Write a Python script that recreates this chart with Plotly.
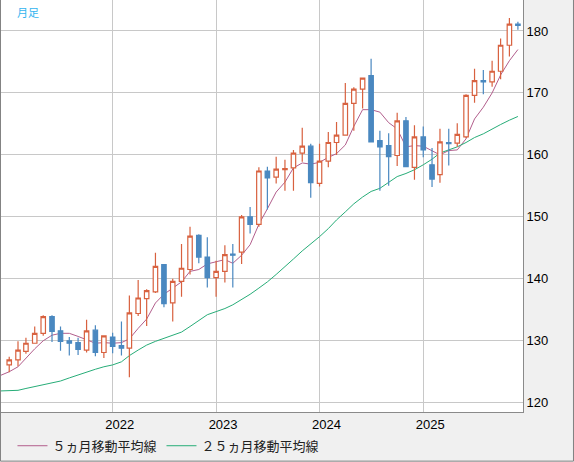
import pandas as pd
import plotly.graph_objects as go

# monthly candles, Jan 2021 .. Dec 2025
months = pd.date_range("2021-01-01", periods=60, freq="MS")
# moving averages start one month earlier so the lines reach the left edge
ma_months = pd.date_range("2020-12-01", periods=61, freq="MS")

opens = [126.1, 126.9, 128.3, 129.6, 131.2, 133.9, 131.6, 130.0, 129.7, 128.5, 131.7, 128.1,
         130.6, 129.2, 128.8, 134.4, 136.8, 137.9, 142.3, 136.1, 139.6, 141.5, 147.0, 143.5,
         140.2, 141.2, 144.0, 144.3, 150.0, 148.8, 157.4, 156.4, 157.6, 157.9, 160.3, 161.4,
         155.4, 159.0, 162.0, 163.2, 168.3, 170.6, 172.8, 162.3, 161.5, 159.9, 165.5, 158.0,
         162.9, 158.4, 156.8, 162.0, 161.9, 162.9, 169.6, 172.0, 171.8, 173.5, 177.7, 181.1]
highs = [127.4, 129.9, 130.5, 132.3, 134.1, 134.1, 132.3, 130.6, 130.5, 133.4, 132.5, 130.9,
         131.3, 133.1, 137.3, 139.8, 138.3, 144.2, 142.4, 140.0, 145.6, 148.4, 147.2, 146.7,
         142.9, 145.4, 145.6, 150.3, 151.6, 158.0, 158.1, 159.7, 159.2, 160.8, 164.4, 161.8,
         161.8, 163.7, 165.3, 171.6, 170.9, 172.5, 175.5, 163.9, 163.5, 166.8, 166.1, 164.8,
         164.6, 161.1, 164.2, 164.2, 165.1, 169.8, 173.9, 173.7, 175.2, 178.8, 182.1, 181.5]
lows = [124.9, 125.9, 127.9, 129.5, 130.8, 129.8, 128.4, 127.6, 127.7, 128.1, 127.5, 127.2,
        128.0, 127.6, 124.1, 134.0, 132.4, 137.7, 135.4, 133.1, 137.1, 140.7, 142.5, 138.6,
        137.1, 139.4, 138.6, 142.4, 147.3, 148.4, 151.2, 155.4, 154.2, 154.2, 158.9, 153.1,
        154.9, 158.0, 160.0, 163.1, 163.9, 167.5, 162.0, 154.2, 155.0, 158.2, 158.0, 156.0,
        159.6, 154.8, 155.5, 158.3, 161.3, 162.7, 168.4, 169.8, 171.0, 172.2, 175.9, 180.2]
closes = [126.9, 128.5, 129.6, 131.2, 133.9, 131.5, 129.9, 129.6, 128.6, 131.6, 128.1, 130.8,
          129.1, 128.8, 134.5, 136.9, 138.1, 142.0, 136.0, 139.6, 141.7, 146.9, 143.5, 140.2,
          141.2, 143.9, 143.8, 150.0, 148.8, 157.4, 156.3, 157.7, 157.8, 160.3, 161.4, 155.5,
          159.0, 162.0, 163.2, 168.3, 170.6, 172.4, 162.1, 161.3, 159.7, 165.5, 158.1, 162.9,
          160.8, 156.1, 162.1, 161.8, 163.3, 169.6, 172.0, 171.8, 173.5, 177.7, 181.1, 180.9]

ma5 = [124.4, 125.0, 125.8, 127.2, 128.7, 130.0, 130.9, 131.2, 131.2, 130.7, 130.2, 129.6,
       129.7, 129.6, 129.7, 130.3, 132.0, 133.5, 136.1, 137.5, 138.5, 139.5, 141.2, 141.5,
       142.4, 142.7, 143.1, 142.5, 143.8, 145.5, 148.8, 151.3, 154.0, 155.6, 157.9, 158.7,
       158.5, 158.8, 159.6, 160.2, 161.6, 164.6, 167.3, 167.3, 166.9, 165.2, 164.2, 161.3,
       161.5, 161.4, 160.7, 160.0, 160.7, 160.8, 162.6, 165.8, 167.7, 170.0, 172.9, 175.2,
       177.0]
ma25 = [121.9, 121.9, 122.0, 122.3, 122.6, 122.9, 123.2, 123.5, 124.0, 124.5, 124.9, 125.4,
        125.8, 126.1, 126.6, 127.6, 128.5, 129.3, 129.9, 130.4, 130.9, 131.4, 132.3, 133.3,
        134.2, 134.7, 135.2, 135.8, 136.6, 137.5, 138.5, 139.5, 140.7, 141.9, 143.2, 144.5,
        145.6, 146.8, 148.1, 149.5, 150.8, 152.1, 153.2, 154.1, 154.6, 155.5, 156.5, 157.0,
        157.6, 158.4, 159.3, 160.3, 160.8, 161.3, 162.0, 162.8, 163.4, 164.2, 164.9, 165.6,
        166.2]

year_ticks = ["2022-01-01", "2023-01-01", "2024-01-01", "2025-01-01"]
year_labels = ["2022", "2023", "2024", "2025"]

RED = "#d8613f"
BLUE = "#4a88c0"
GRID = "#c8c8c8"
FONT = "Liberation Sans, Noto Sans CJK JP"

fig = go.Figure()

# MA lines on the base axes, candles on an overlay so they sit on top
fig.add_trace(go.Scatter(x=ma_months, y=ma5, mode="lines", name="５ヵ月移動平均線",
                         line=dict(color="#b25e8c", width=1)))
fig.add_trace(go.Scatter(x=ma_months, y=ma25, mode="lines", name="２５ヵ月移動平均線",
                         line=dict(color="#27ad78", width=1)))

fig.add_trace(go.Candlestick(
    x=months, open=opens, high=highs, low=lows, close=closes,
    increasing=dict(line=dict(color=RED, width=1.2), fillcolor="white"),
    decreasing=dict(line=dict(color=BLUE, width=1.2), fillcolor=BLUE),
    whiskerwidth=0, showlegend=False, hoverinfo="skip",
    xaxis="x2", yaxis="y2",
))

fig.add_annotation(text="月足", xref="paper", yref="paper", x=0.027, y=0.972,
                   xanchor="left", yanchor="middle", showarrow=False,
                   font=dict(family="Noto Sans CJK JP", size=11, color="#33b4ef"))

# outer frame (left, right, bottom)
fig.add_shape(type="rect", xref="paper", yref="paper",
              x0=-0.001, x1=1.0967, y0=-0.1192, y1=1.01,
              line=dict(color="#808080", width=1), layer="above")

fig.update_layout(
    width=574, height=462,
    margin=dict(l=1, r=51, t=0, b=50),
    paper_bgcolor="#f0f0f0", plot_bgcolor="white",
    boxgap=0.2,
    font=dict(family=FONT, size=13, color="#111"),
    legend=dict(orientation="h", x=0.022, y=-0.082, xanchor="left", yanchor="middle",
                bgcolor="rgba(0,0,0,0)", itemwidth=30, tracegroupgap=0,
                font=dict(family="Noto Sans CJK JP", size=13, color="#222")),
    xaxis=dict(type="date", range=["2020-12-03", "2025-12-19"],
               tickvals=year_ticks, ticktext=year_labels, ticks="",
               showgrid=True, gridcolor=GRID, gridwidth=1,
               showline=True, linecolor="#8a8a8a", linewidth=1,
               ticklabelshift=7, rangeslider=dict(visible=False),
               tickfont=dict(family=FONT, size=13, color="#000")),
    yaxis=dict(side="right", range=[118.5, 185.0], tick0=120, dtick=10, ticks="",
               showgrid=True, gridcolor=GRID, gridwidth=1, zeroline=False,
               showline=True, linecolor="#8a8a8a", linewidth=1,
               tickfont=dict(family=FONT, size=13, color="#000")),
    xaxis2=dict(type="date", overlaying="x", matches="x", visible=False,
                rangeslider=dict(visible=False)),
    yaxis2=dict(overlaying="y", matches="y", visible=False),
)

# the page's default 8px body margin would shift the whole chart
fig.write_html("out.html", config={"displayModeBar": False},
               post_script="document.body.style.margin='0px';")
